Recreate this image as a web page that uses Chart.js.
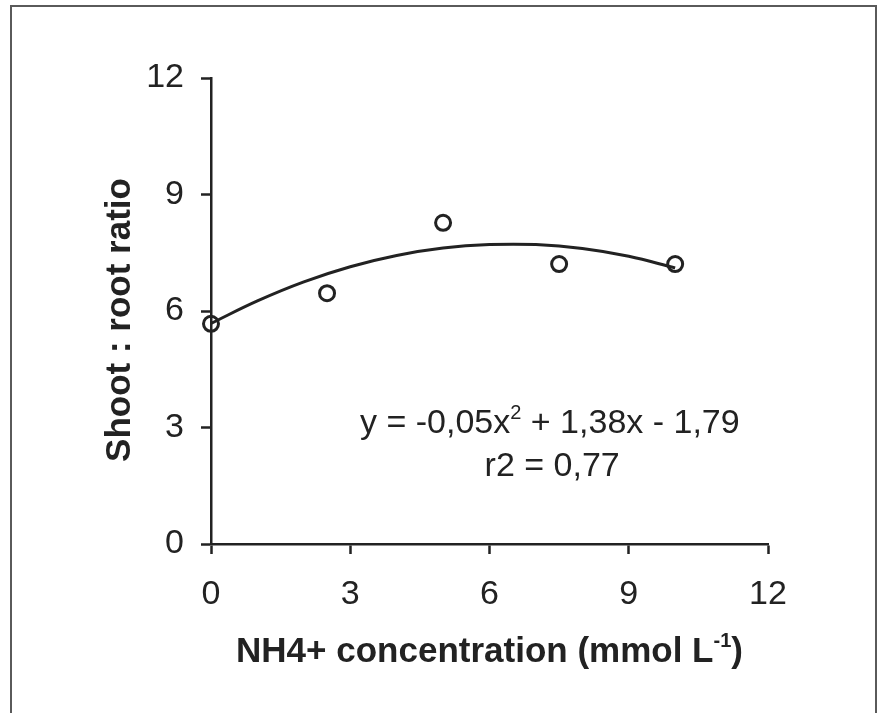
<!DOCTYPE html>
<html>
<head>
<meta charset="utf-8">
<script src="https://cdn.jsdelivr.net/npm/chart.js@4"></script>
<style>
  html, body { margin: 0; padding: 0; background: #fff; overflow: hidden; }
  #wrap { position: relative; width: 885px; height: 713px; }
  #frame { position: absolute; left: 10px; top: 5px; width: 867px; height: 760px;
           border: 2px solid #5a5a5a; box-sizing: border-box; pointer-events: none; }
  canvas { position: absolute; left: 0; top: 0; }
</style>
</head>
<body>
<div id="wrap">
  <canvas id="myChart" width="885" height="713"></canvas>
  <div id="frame"></div>
</div>
<script>
// measured points
const nh4 = [0, 2.5, 5, 7.5, 10];
const shootRoot = [5.67, 6.46, 8.27, 7.21, 7.21];

// fitted curve
const curveX = [0, 1, 2, 3, 4, 5, 6, 7, 8, 9, 10];
const curveY = [5.68, 6.26, 6.75, 7.14, 7.43, 7.62, 7.71, 7.71, 7.61, 7.41, 7.11];

const tickValues = [0, 3, 6, 9, 12];

const eqLine1 = [{ t: 'y = -0,05x' }, { t: '2', sup: true }, { t: ' + 1,38x - 1,79' }];
const eqLine2 = [{ t: 'r2 = 0,77' }];
const xTitle = [{ t: 'NH4+ concentration (mmol L' }, { t: '-1', sup: true }, { t: ')' }];
const yTitle = [{ t: 'Shoot : root ratio' }];

const ink = '#222222';
const fontName = '"Liberation Sans", Arial, sans-serif';

// draws text pieces with superscripts, centered on cx
const drawPieces = (ctx, pieces, cx, base, size, bold) => {
    const w = bold ? 'bold ' : '';
    const supSize = Math.round(size * 0.58);
    let total = 0;
    pieces.forEach(p => {
        ctx.font = w + (p.sup ? supSize : size) + 'px ' + fontName;
        p.w = ctx.measureText(p.t).width;
        total += p.w;
    });
    let x = cx - total / 2;
    ctx.textAlign = 'left';
    ctx.textBaseline = 'alphabetic';
    pieces.forEach(p => {
        ctx.font = w + (p.sup ? supSize : size) + 'px ' + fontName;
        ctx.fillText(p.t, x, p.sup ? base - size * 0.42 : base);
        x += p.w;
    });
};

const textPlugin = {
    id: 'textPlugin',
    afterDraw(chart) {
        const ctx = chart.ctx;
        const xs = chart.scales.x, ys = chart.scales.y;
        const area = chart.chartArea;
        ctx.save();
        ctx.fillStyle = ink;
        drawPieces(ctx, eqLine1, xs.getPixelForValue(7.3), ys.getPixelForValue(2.85), 34, false);
        drawPieces(ctx, eqLine2, xs.getPixelForValue(7.35), ys.getPixelForValue(1.74), 34, false);
        drawPieces(ctx, xTitle, (area.left + area.right) / 2, area.bottom + 118, 35, true);
        // rotated y title
        ctx.translate(area.left - 81, (area.top + area.bottom) / 2 + 9);
        ctx.rotate(-Math.PI / 2);
        drawPieces(ctx, yTitle, 0, 0, 35, true);
        ctx.restore();
    }
};

const axisBase = {
    type: 'linear',
    min: 0,
    max: 12,
    afterBuildTicks: (axis) => { axis.ticks = tickValues.map(v => ({ value: v })); },
    grid: { drawOnChartArea: false, drawTicks: true, tickLength: 10, tickColor: ink, tickWidth: 2.5 },
    border: { display: true, color: ink, width: 2.5 }
};

const config = {
    type: 'scatter',
    data: {
        datasets: [
            {
                label: 'points',
                data: nh4.map((v, i) => ({ x: v, y: shootRoot[i] })),
                pointStyle: 'circle',
                pointRadius: 7.5,
                pointBorderWidth: 3,
                pointBorderColor: ink,
                pointBackgroundColor: 'rgba(0,0,0,0)',
                showLine: false,
                clip: false,
                order: 0
            },
            {
                label: 'fit',
                data: curveX.map((v, i) => ({ x: v, y: curveY[i] })),
                showLine: true,
                borderColor: ink,
                borderWidth: 3,
                pointRadius: 0,
                tension: 0.4,
                clip: false,
                order: 1
            }
        ]
    },
    options: {
        responsive: false,
        animation: false,
        layout: { padding: { left: 98, top: 78, right: 117, bottom: 89 } },
        plugins: { legend: { display: false }, tooltip: { enabled: false } },
        scales: {
            x: Object.assign({}, axisBase, {
                position: 'bottom',
                afterFit: (s) => { s.height = 80; },
                ticks: { color: ink, padding: 20, font: { family: fontName, size: 34 }, maxRotation: 0 }
            }),
            y: Object.assign({}, axisBase, {
                position: 'left',
                afterFit: (s) => { s.width = 113; },
                ticks: { color: ink, padding: 17, font: { family: fontName, size: 34 } }
            })
        }
    },
    plugins: [textPlugin]
};

const myChart = new Chart(document.getElementById('myChart'), config);
</script>
</body>
</html>
